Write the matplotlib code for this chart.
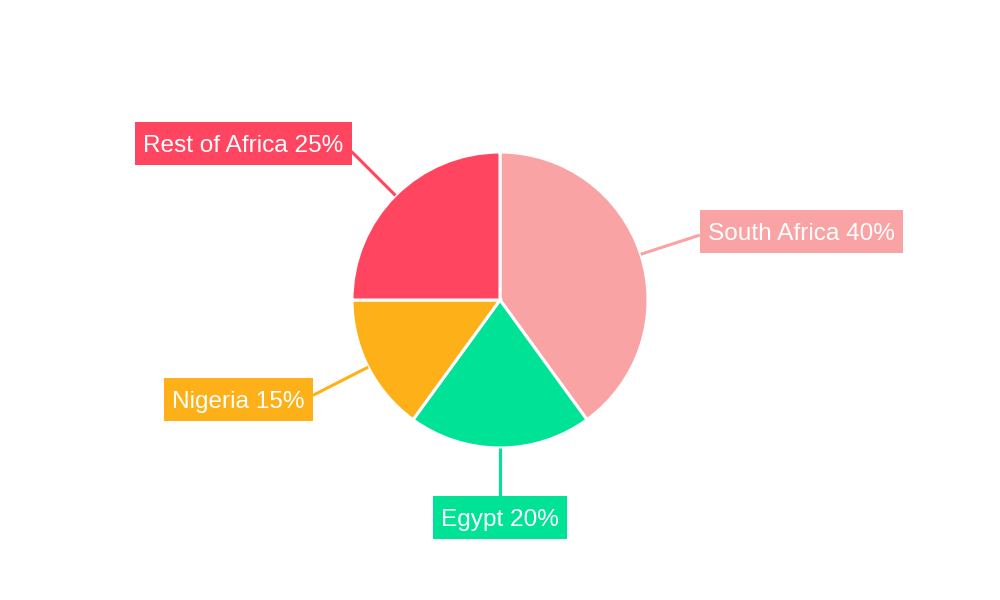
import numpy as np
import matplotlib
matplotlib.use("Agg")
from matplotlib import pyplot as plt
from matplotlib.patches import Rectangle

plt.rcParams['font.family'] = ['Liberation Sans', 'DejaVu Sans']

# datos del grafico
labels = ["South Africa", "Egypt", "Nigeria", "Rest of Africa"]
shares = [40, 20, 15, 25]
colors = ["#f9a3a4", "#00e396", "#feb019", "#ff4560"]

W, H = 1000, 600
cx, cy = 500, 300          # centro en pixeles (y hacia abajo)
R = 148
R_LINE = 210
FS = 17.6                  # pt
BOX_H = 43                 # alto del recuadro en px
PADX = 8
BASE = 13                  # linea base del texto sobre el borde inferior del recuadro
# corrimiento vertical del recuadro respecto al final de la linea (px, hacia abajo)
box_dy = [-3.5, 7.5, 4.5, -8]

fig = plt.figure(figsize=(10, 6), dpi=100)
ax = fig.add_axes([0, 0, 1, 1])

wedges, _ = ax.pie(shares, colors=colors, startangle=90, counterclock=False,
                   center=(cx, H - cy), radius=R,
                   wedgeprops=dict(edgecolor='white', linewidth=2.2))

# pie cambia los limites, los vuelvo a poner
ax.set_xlim(0, W)
ax.set_ylim(0, H)
ax.set_aspect('equal')
ax.axis('off')

renderer = fig.canvas.get_renderer()

# etiquetas con linea radial
for w, lab, val, col, dy in zip(wedges, labels, shares, colors, box_dy):
    ang = np.deg2rad((w.theta1 + w.theta2) / 2)
    x0, y0 = cx + R * np.cos(ang), H - cy + R * np.sin(ang)
    x1, y1 = cx + R_LINE * np.cos(ang), H - cy + R_LINE * np.sin(ang)
    ax.plot([x0, x1], [y0, y1], color=col, lw=2.2, solid_capstyle='butt', zorder=1)

    t = ax.text(0, 0, f"{lab} {val}%", color='white', fontsize=FS,
                ha='center', va='baseline', zorder=3)
    tw = t.get_window_extent(renderer).width
    bw = tw + 2 * PADX

    if abs(np.cos(ang)) < 0.2:      # abajo
        bx = x1 - bw / 2
    elif np.cos(ang) > 0:           # derecha
        bx = x1
    else:                           # izquierda
        bx = x1 - bw
    by = y1 - dy - BOX_H / 2
    t.set_position((bx + bw / 2, by + BASE))
    ax.add_patch(Rectangle((bx, by), bw, BOX_H, fc=col, ec='none', zorder=2))

fig.savefig("out.png", dpi=100, facecolor='white')
